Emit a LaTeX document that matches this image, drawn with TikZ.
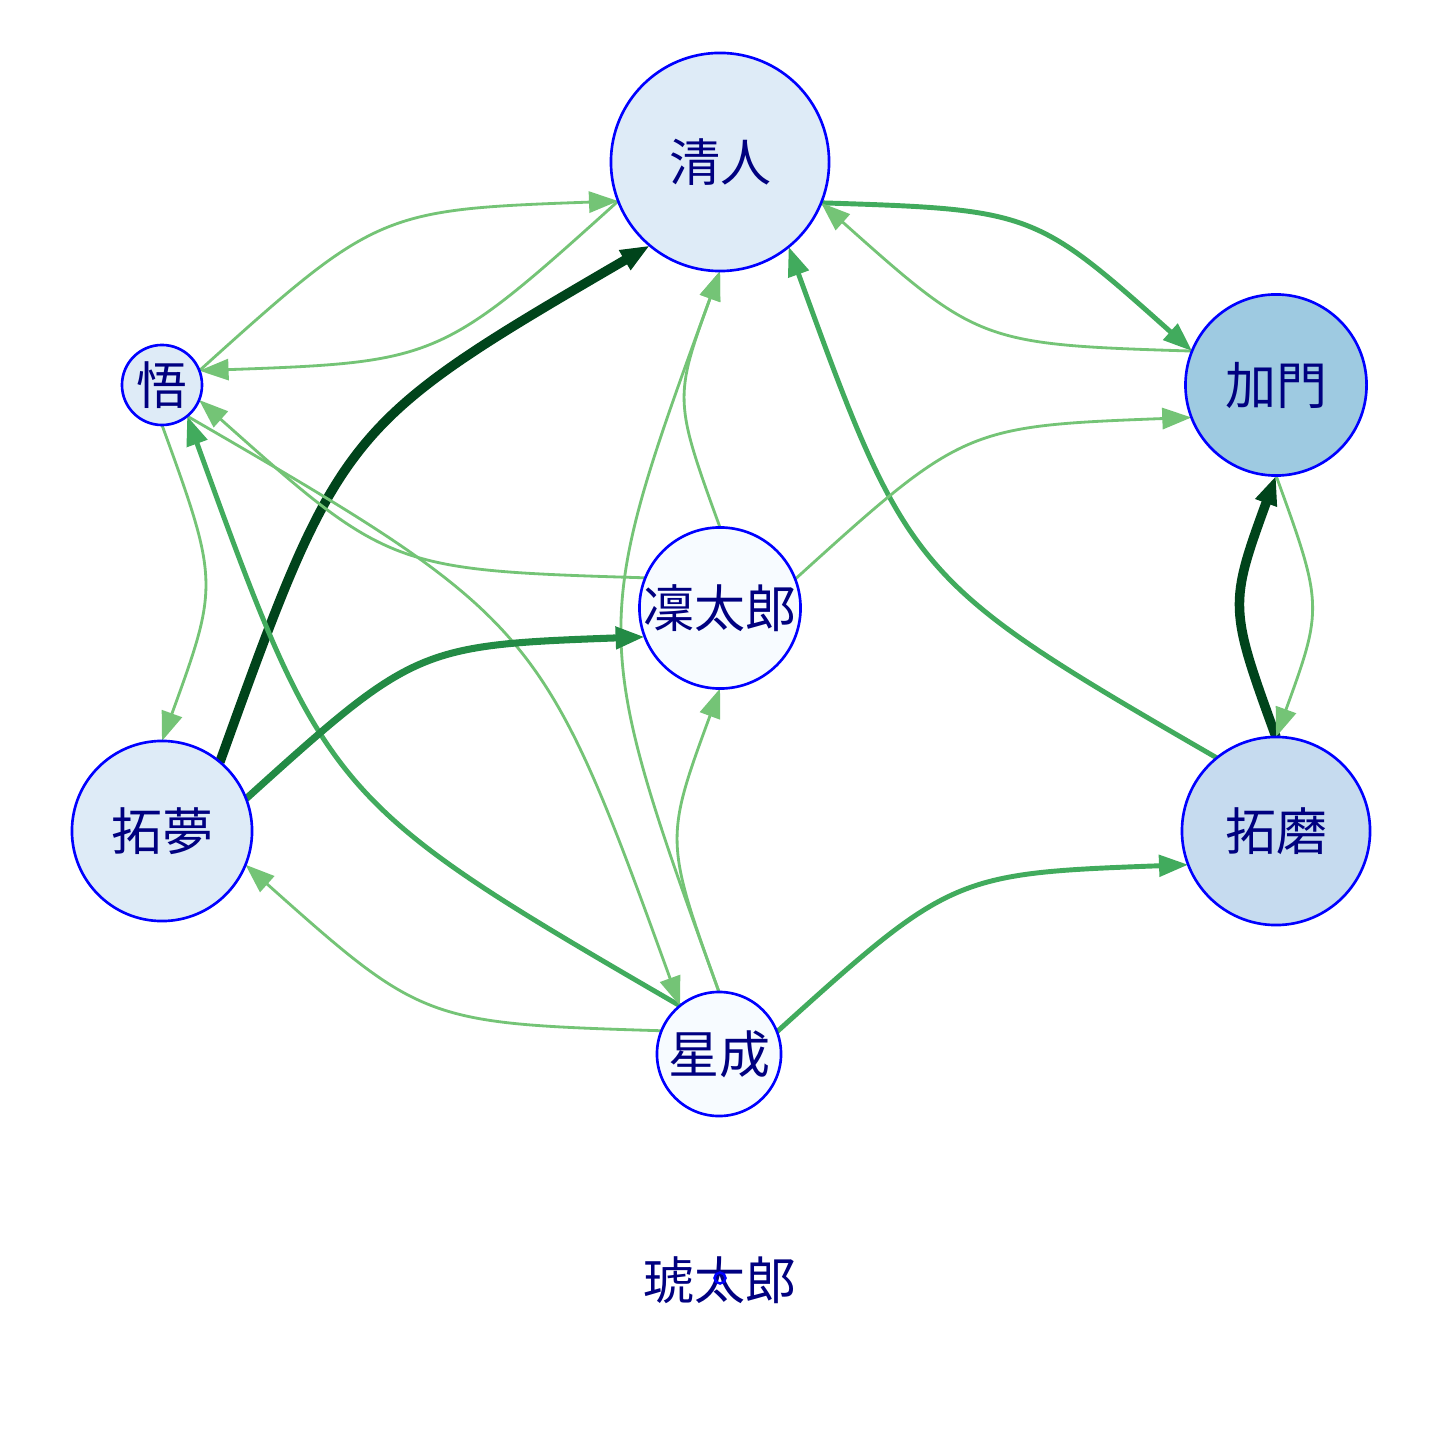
\documentclass[tikz,border=0pt]{standalone}
\usepackage{fontspec}
\newfontfamily\cjk{Noto Sans CJK JP}
\usetikzlibrary{arrows.meta}
\definecolor{nodeblue}{RGB}{0,0,255}
\definecolor{txt}{RGB}{0,0,128}
\definecolor{fA}{HTML}{DEEBF7}
\definecolor{fB}{HTML}{9ECAE1}
\definecolor{fC}{HTML}{F7FBFF}
\definecolor{fD}{HTML}{C6DBEF}
\definecolor{gL}{HTML}{74C476}
\definecolor{gM}{HTML}{41AB5D}
\definecolor{gS}{HTML}{238B45}
\definecolor{gD}{HTML}{00441B}
\pgfdeclarelayer{back}
\pgfdeclarelayer{bg}
\pgfsetlayers{back,bg,main}
\begin{document}
\begin{tikzpicture}[x=0.01cm,y=-0.01cm,
  vert/.style={circle,draw=nodeblue,line width=0.75pt,inner sep=0pt,outer sep=0pt},
  lbl/.style={font=\cjk\fontsize{14.5}{14.5}\selectfont,text=txt,inner sep=0pt},
  edge/.style={-{Triangle[length=8.3pt,width=6pt]},bend left=20,looseness=1.35},
  lite/.style={edge,draw=gL,line width=0.8pt},
  med/.style={edge,draw=gM,line width=1.4pt},
  semi/.style={edge,draw=gS,line width=2pt},
  dark/.style={edge,draw=gD,line width=2.7pt}
]
\begin{pgfonlayer}{back}
\fill[white] (0,0) rectangle (1440,1440);
\end{pgfonlayer}
\useasboundingbox (0,0) rectangle (1440,1440);

\node[vert,fill=fA,minimum size=2.18cm] (Q) at (720,162) {};
\node[vert,fill=fA,minimum size=0.80cm] (W) at (162,385) {};
\node[vert,fill=fB,minimum size=1.81cm] (J) at (1276,385) {};
\node[vert,fill=fC,minimum size=1.61cm] (R) at (720,608) {};
\node[vert,fill=fA,minimum size=1.80cm] (M) at (162,831) {};
\node[vert,fill=fD,minimum size=1.88cm] (T) at (1276,831) {};
\node[vert,fill=fC,minimum size=1.24cm] (S) at (719,1054) {};

\node[lbl] (Qt) at (Q) {清人};
\node[lbl] (Wt) at (W) {悟};
\node[lbl] (Jt) at (J) {加門};
\node[lbl] (Rt) at (R) {凜太郎};
\node[lbl] (Mt) at (M) {拓夢};
\node[lbl] (Tt) at (T) {拓磨};
\node[lbl] (St) at (S) {星成};
\node[lbl] (Kt) at (720,1280) {琥太郎};
\node[vert,minimum size=0.11cm,line width=0.7pt] (K) at (720,1278) {};

\begin{pgfonlayer}{bg}
\draw[lite] (W.21.8) to (Q.201.8);
\draw[lite] (Q.201.8) to (W.21.8);
\draw[dark] (M.50.17) to (Q.230.17);
\draw[med] (Q.338.15) to (J.158.15);
\draw[lite] (J.158.15) to (Q.338.15);
\draw[med] (T.129.73) to (Q.309.73);
\draw[lite] (R.90) to (Q.270);
\draw[lite] (S.90) to (Q.270);
\draw[lite] (R.21.85) to (J.201.85);
\draw[lite] (R.158.2) to (W.338.2);
\draw[med] (S.129.8) to (W.309.8);
\draw[lite] (W.309.8) to (S.129.8);
\draw[lite] (W.270) to (M.90);
\draw[semi] (M.21.8) to (R.201.8);
\draw[lite] (S.158.2) to (M.338.2);
\draw[lite] (S.90) to (R.270);
\draw[med] (S.21.8) to (T.201.8);
\draw[dark] (T.90) to (J.270);
\draw[lite] (J.270) to (T.90);
\end{pgfonlayer}
\end{tikzpicture}
\end{document}
